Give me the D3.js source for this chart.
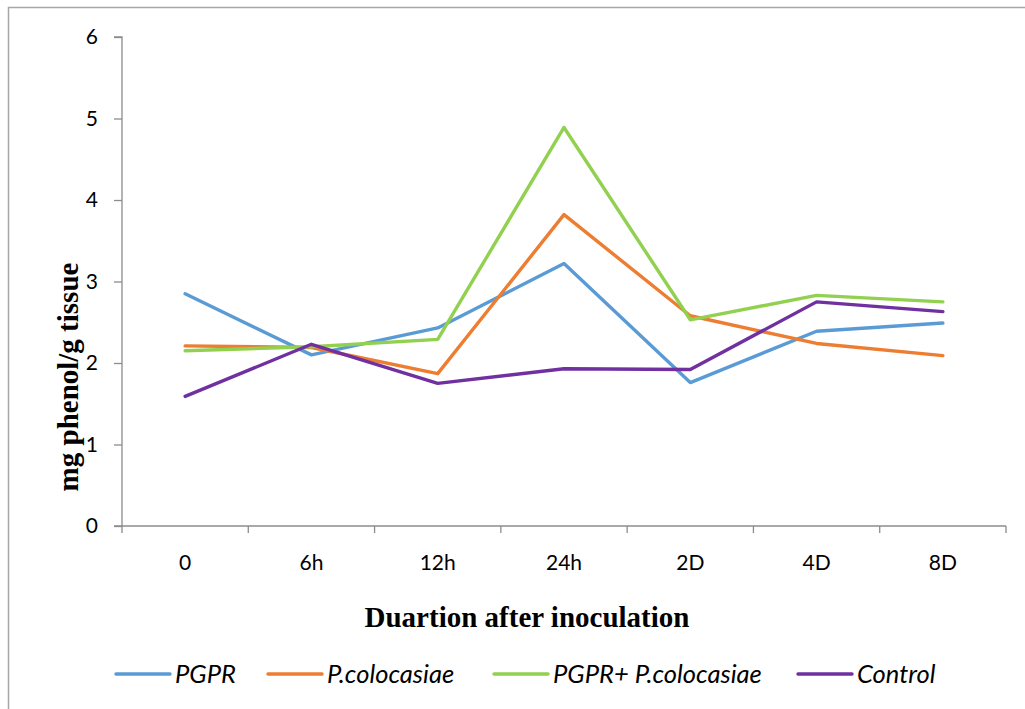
<!DOCTYPE html>
<html>
<head>
<meta charset="utf-8">
<script src="https://cdn.jsdelivr.net/npm/d3@7/dist/d3.min.js"></script>
<style>
  body { margin: 0; background: #fff; }
  svg { display: block; }
</style>
</head>
<body>
<script>
// values
const durations = ["0", "6h", "12h", "24h", "2D", "4D", "8D"]
const pgpr       = [2.85, 2.10, 2.43, 3.22, 1.76, 2.39, 2.49]
const pcol       = [2.21, 2.19, 1.87, 3.82, 2.58, 2.24, 2.09]
const pgprPcol   = [2.15, 2.20, 2.29, 4.89, 2.53, 2.83, 2.75]
const control    = [1.59, 2.23, 1.75, 1.93, 1.92, 2.75, 2.63]
const seriesNames = ["PGPR", "P.colocasiae", "PGPR+ P.colocasiae", "Control"]
const yTicks = [0, 1, 2, 3, 4, 5, 6]

const colors = ["#5b9bd5", "#ed7d31", "#92d050", "#7030a0"]
const series = [pgpr, pcol, pgprPcol, control].map((values, i) => ({ name: seriesNames[i], values, color: colors[i] }))

const width = 1025, height = 709
const margin = {top: 37, right: 19, bottom: 183, left: 122}
const sans = "Lato, 'Noto Sans', sans-serif"
const serif = "'Liberation Serif', 'Times New Roman', serif"

const svg = d3.select("body").append("svg")
    .attr("width", width)
    .attr("height", height)

// outer chart frame
svg.append("rect")
    .attr("x", 8.5).attr("y", 7.5)
    .attr("width", width + 20).attr("height", height + 20)
    .attr("fill", "none")
    .attr("stroke", "#a6a6a6")
    .attr("stroke-width", 1.5)

const x = d3.scaleBand(durations, [margin.left, width - margin.right])
const y = d3.scaleLinear([0, 6], [height - margin.bottom, margin.top])

// y axis
const yAxis = svg.append("g")
    .attr("transform", `translate(${margin.left},0)`)
    .call(d3.axisLeft(y).tickValues(yTicks).tickSize(8).tickPadding(16).tickFormat(d3.format("d")))
yAxis.selectAll("path, line").attr("stroke", "#8c8c8c").attr("stroke-width", 1.3)
yAxis.selectAll("text").attr("font-family", sans).attr("font-size", 21).attr("fill", "#000")
yAxis.select(".domain").attr("d", `M-8,${y(6)}H0V${y(0)}`)

// x axis, ticks sit on the band edges like Excel
const xAxis = svg.append("g")
    .attr("transform", `translate(0,${y(0)})`)
xAxis.append("line")
    .attr("x1", margin.left - 8).attr("x2", x.range()[1])
    .attr("stroke", "#8c8c8c").attr("stroke-width", 1.3)
xAxis.selectAll(".tick")
    .data(durations.map(d => x(d)).concat([x.range()[1]]))
    .join("line")
      .attr("x1", d => d).attr("x2", d => d)
      .attr("y1", 0).attr("y2", 7)
      .attr("stroke", "#8c8c8c").attr("stroke-width", 1.3)
xAxis.selectAll("text")
    .data(durations)
    .join("text")
      .attr("x", d => x(d) + x.bandwidth() / 2)
      .attr("y", 44)
      .attr("text-anchor", "middle")
      .attr("font-family", sans)
      .attr("font-size", 21)
      .text(d => d)

// lines
const line = d3.line()
    .x((d, i) => x(durations[i]) + x.bandwidth() / 2)
    .y(d => y(d))

svg.append("g")
    .attr("fill", "none")
    .attr("stroke-width", 3.4)
    .attr("stroke-linejoin", "round")
    .attr("stroke-linecap", "round")
  .selectAll("path")
  .data(series)
  .join("path")
    .attr("stroke", d => d.color)
    .attr("d", d => line(d.values))

// axis titles
svg.append("text")
    .attr("x", 527).attr("y", 627)
    .attr("text-anchor", "middle")
    .attr("font-family", serif)
    .attr("font-weight", "bold")
    .attr("font-size", 29)
    .text("Duartion after inoculation")

svg.append("text")
    .attr("transform", "translate(78,377) rotate(-90)")
    .attr("text-anchor", "middle")
    .attr("font-family", serif)
    .attr("font-weight", "bold")
    .attr("font-size", 29)
    .text("mg phenol/g tissue")

// legend
const legendX = [116, 268, 494, 798]
const legend = svg.append("g")
  .selectAll("g")
  .data(series)
  .join("g")
    .attr("transform", (d, i) => `translate(${legendX[i]},674)`)
legend.append("line")
    .attr("x1", 0).attr("x2", 54)
    .attr("stroke", d => d.color)
    .attr("stroke-width", 3.4)
    .attr("stroke-linecap", "round")
legend.append("text")
    .attr("x", 59).attr("y", 9)
    .attr("font-family", sans)
    .attr("font-style", "italic")
    .attr("font-size", 25.5)
    .text(d => d.name)
</script>
</body>
</html>
